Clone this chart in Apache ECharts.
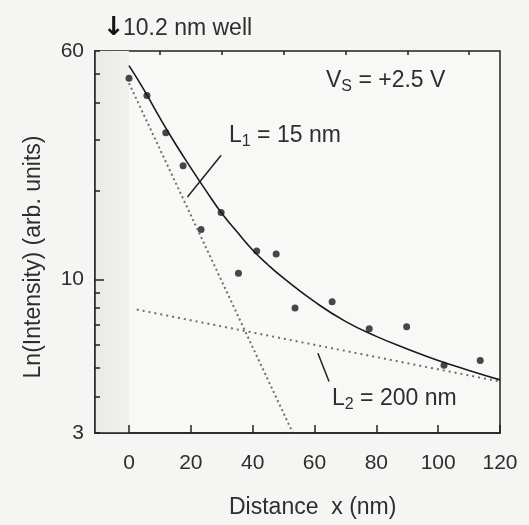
<!DOCTYPE html>
<html>
<head>
<meta charset="utf-8">
<script src="https://cdn.jsdelivr.net/npm/echarts@6/dist/echarts.min.js"></script>
<style>
  html, body { margin: 0; padding: 0; background: #f5f5f3; }
  #chart { width: 529px; height: 525px; }
</style>
</head>
<body>
<div id="chart"></div>
<script>
// 测量点 (距离 nm, 强度)
const pointX = [0, 5.8, 11.9, 17.5, 23.3, 29.8, 35.4, 41.3, 47.6, 53.7, 65.7, 77.7, 89.8, 101.9, 113.6];
const pointY = [48.5, 42.3, 31.6, 24.4, 14.8, 16.9, 10.5, 12.5, 12.2, 8.0, 8.4, 6.8, 6.9, 5.1, 5.3];

// 拟合曲线
const fitX = [0, 5, 10, 15, 20, 25, 30, 35, 40, 45, 50, 60, 70, 80, 90, 100, 110, 120];
const fitY = [53.5, 44, 35.5, 29, 24, 20, 16.8, 14.5, 12.6, 11.2, 10.1, 8.4, 7.2, 6.4, 5.8, 5.3, 4.9, 4.55];

// 两条指数分量 (虚线)
const l1X = [0, 53];
const l1Y = [46.6, 3];
const l2X = [2.5, 120];
const l2Y = [7.9, 4.49];

// 标注引线
const lead1X = [29.8, 18.9];
const lead1Y = [26.5, 19.1];
const lead2X = [61.1, 64.7];
const lead2Y = [5.61, 4.49];

// 刻度
const xMajor = [0, 20, 40, 60, 80, 100, 120];
const xMinor = [10, 30, 50, 70, 90, 110];
const yLabels = [3, 10, 60];
const yTicks = [3, 4, 5, 6, 7, 8, 9, 20, 30, 40, 50, 60];

const zip = (xs, ys) => xs.map((x, i) => [x, ys[i]]);
const font = '"Liberation Sans", Arial, sans-serif';
const ink = '#222';
const txt = '#2e2e2e';

let chart = echarts.init(document.getElementById('chart'));

let baseX = {
    type: 'value', min: -11, max: 120, z: 5,
    splitLine: { show: false }
};
let baseY = {
    type: 'log', logBase: 10, min: 3, max: 60, z: 5,
    splitLine: { show: false }, minorTick: { show: false }
};

// 带下标的文字
function subText(main, sub, rest) {
    return {
        text: '{b|' + main + '}{s|' + sub + '}{b|' + rest + '}',
        fill: txt, fontFamily: font,
        rich: {
            b: { fontSize: 23, fontFamily: font, fill: txt },
            s: { fontSize: 16, fontFamily: font, fill: txt, padding: [12, 0, 0, 0] }
        }
    };
}

chart.setOption({
    backgroundColor: '#f5f5f3',
    animation: false,
    grid: {
        left: 95, right: 29, top: 51, bottom: 92,
        show: true, backgroundColor: '#f8f8f7',
        borderColor: ink, borderWidth: 1.5
    },
    xAxis: [
        Object.assign({}, baseX, {
            axisLine: { show: true, onZero: false, lineStyle: { color: ink, width: 1.5 } },
            axisTick: { show: true, inside: true, length: 8, customValues: xMajor, lineStyle: { color: ink, width: 1.5 } },
            axisLabel: { customValues: xMajor, color: txt, fontSize: 21, fontFamily: font, margin: 20 }
        }),
        Object.assign({}, baseX, {
            axisLine: { show: false, onZero: false },
            axisTick: { show: true, inside: true, length: 4, customValues: xMinor, lineStyle: { color: ink, width: 1.5 } },
            axisLabel: { show: false }
        })
    ],
    yAxis: [
        Object.assign({}, baseY, {
            axisLine: { show: true, onZero: false, lineStyle: { color: ink, width: 1.5 } },
            axisTick: { show: true, inside: true, length: 5, customValues: yTicks, lineStyle: { color: ink, width: 1.5 } },
            axisLabel: { customValues: yLabels, color: txt, fontSize: 21, fontFamily: font, margin: 11 }
        }),
        Object.assign({}, baseY, {
            position: 'left',
            axisLine: { show: false, onZero: false },
            axisTick: { show: true, inside: true, length: 9, customValues: [10], lineStyle: { color: ink, width: 1.5 } },
            axisLabel: { show: false }
        })
    ],
    graphic: [
        { type: 'text', left: 103, top: 15, style: { text: '↓', fontSize: 26, fontWeight: 'bold', fill: '#111', fontFamily: '"DejaVu Sans", sans-serif' } },
        { type: 'text', left: 123, top: 17, style: { text: '10.2 nm well', fontSize: 23, fill: txt, fontFamily: font } },
        { type: 'text', left: 229, top: 496, style: { text: 'Distance  x (nm)', fontSize: 23, fill: txt, fontFamily: font } },
        { type: 'text', x: 34, y: 257, rotation: Math.PI / 2,
          style: { text: 'Ln(Intensity) (arb. units)', fontSize: 23, fill: txt, fontFamily: font, align: 'center', verticalAlign: 'middle' } },
        { type: 'text', left: 326, top: 69, style: subText('V', 'S', ' = +2.5 V') },
        { type: 'text', left: 229, top: 124, style: subText('L', '1', ' = 15 nm') },
        { type: 'text', left: 332, top: 387, style: subText('L', '2', ' = 200 nm') }
    ],
    series: [
        {
            // 量子阱区域阴影
            type: 'line', data: [], silent: true, z: 1,
            markArea: {
                silent: true,
                itemStyle: {
                    color: new echarts.graphic.LinearGradient(0, 0, 1, 0, [
                        { offset: 0, color: '#e9e9e7' },
                        { offset: 1, color: '#f1f1ef' }
                    ])
                },
                data: [[{ xAxis: -11 }, { xAxis: 0 }]]
            }
        },
        {
            type: 'line', data: zip(l1X, l1Y), symbol: 'none',
            lineStyle: { color: '#6e6e6e', width: 2, type: [2, 3] }
        },
        {
            type: 'line', data: zip(l2X, l2Y), symbol: 'none',
            lineStyle: { color: '#6e6e6e', width: 2, type: [2, 4] }
        },
        {
            type: 'line', data: zip(fitX, fitY), symbol: 'none', smooth: true,
            lineStyle: { color: '#1a1a1a', width: 1.6 }
        },
        {
            type: 'line', data: zip(lead1X, lead1Y), symbol: 'none',
            lineStyle: { color: '#222', width: 1.5 }
        },
        {
            type: 'line', data: zip(lead2X, lead2Y), symbol: 'none',
            lineStyle: { color: '#222', width: 1.5 }
        },
        {
            type: 'scatter', data: zip(pointX, pointY), symbolSize: 7,
            itemStyle: { color: '#1a1a1a' }
        }
    ]
});
</script>
</body>
</html>
